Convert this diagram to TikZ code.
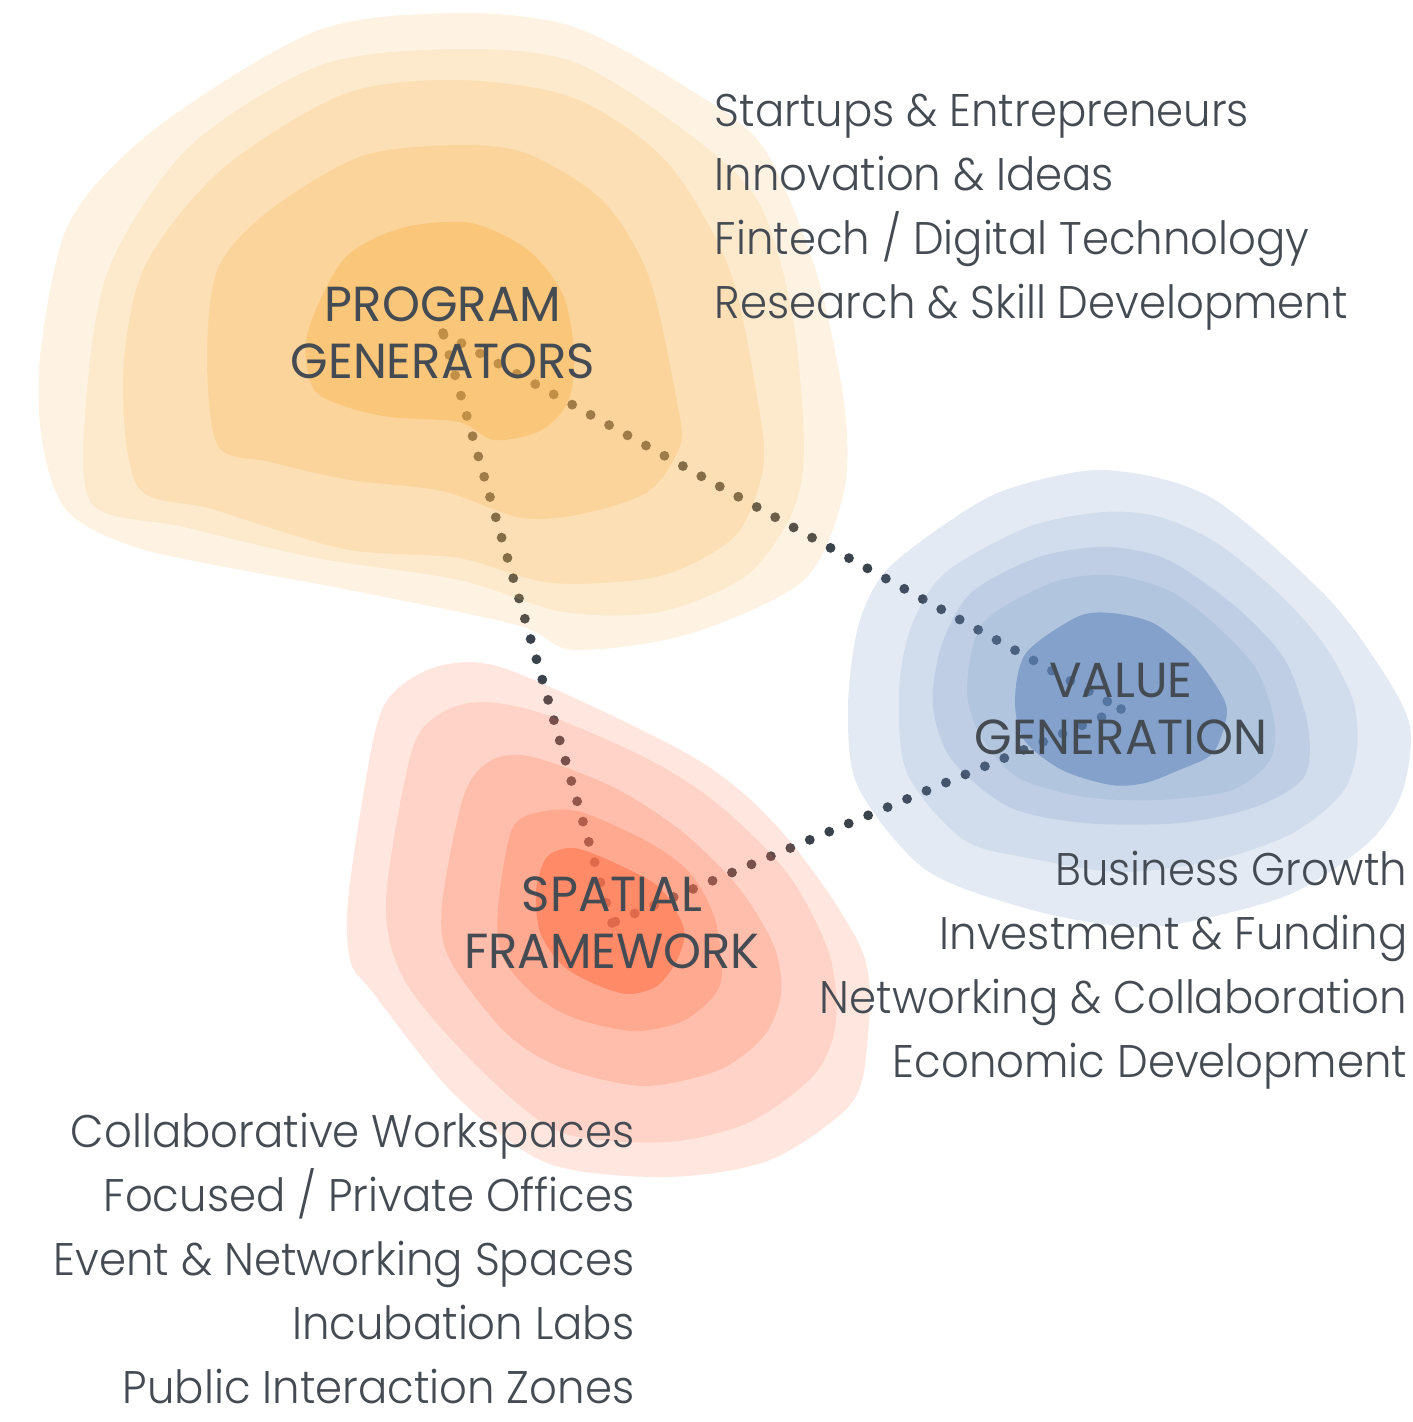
\documentclass[tikz,border=0pt]{standalone}
\usepackage{fontspec}
\setmainfont{Poppins}
\IfFontExistsTF{Poppins Light}
  {\newfontfamily\listfont{Poppins Light}[FakeStretch=0.95]}
  {\IfFontExistsTF{Lato Light}
    {\newfontfamily\listfont{Lato Light}}
    {\newfontfamily\listfont{Poppins}[FakeStretch=0.95]}}
\newfontfamily\headfont{Poppins}[FakeStretch=0.98]

\definecolor{inkgrey}{HTML}{454B53}
\definecolor{dotgrey}{HTML}{3A424B}
\definecolor{pgorange}{HTML}{F7B046}
\definecolor{vgblue}{HTML}{5F85BC}
\definecolor{sfred}{HTML}{FF734B}

\pgfdeclarelayer{dots}
\pgfdeclarelayer{blobs}
\pgfsetlayers{dots,blobs,main}

\begin{document}
\begin{tikzpicture}[x=0.01cm,y=-0.01cm,
  headtext/.style={inner sep=0pt,align=center,text=inkgrey,font=\headfont\fontsize{14}{16.2}\selectfont},
  listtext/.style={inner sep=0pt,text=inkgrey,font=\listfont\fontsize{13}{18.2}\selectfont},
  dotline/.style={draw=dotgrey,line width=2.8pt,line cap=round,dash pattern=on 0pt off 6pt}]
\useasboundingbox (0,0) rectangle (1413,1422);

% the three hubs
\node[headtext] (pg) at (443,333) {PROGRAM\\GENERATORS};
\node[headtext] (vg) at (1121,709) {VALUE\\GENERATION};
\node[headtext] (sf) at (612,923) {SPATIAL\\FRAMEWORK};

% lists
\node[listtext,align=left,anchor=north west] (pglist) at (714,93)
  {Startups \& Entrepreneurs\\Innovation \& Ideas\\Fintech / Digital Technology\\Research \& Skill Development};
\node[listtext,align=right,anchor=north east] (vglist) at (1408,850)
  {Business Growth\\Investment \& Funding\\Networking \& Collaboration\\Economic Development};
\node[listtext,align=right,anchor=north east] (sflist) at (635,1112)
  {Collaborative Workspaces\\Focused / Private Offices\\Event \& Networking Spaces\\Incubation Labs\\Public Interaction Zones};

% dotted links
\begin{pgfonlayer}{dots}
\draw[dotline] (pg.center) -- (vg.center);
\draw[dotline] (vg.center) -- (sf.center);
\draw[dotline] (sf.center) -- (pg.center);
\end{pgfonlayer}

\begin{pgfonlayer}{blobs}
% program generators
\fill[pgorange,fill opacity=0.15] plot[smooth cycle] coordinates {(316,31) (459,13) (574,27) (689,89) (763,147) (815,268) (844,402) (844,491) (804,580) (689,634) (574,650) (517,625) (344,589) (149,551) (69,513) (43,446) (40,357) (69,223) (155,129)};
\fill[pgorange,fill opacity=0.14] plot[smooth cycle] coordinates {(321,65) (459,49) (574,62) (689,134) (758,201) (792,312) (804,446) (792,513) (746,576) (660,612) (563,612) (459,580) (316,558) (184,527) (92,504) (86,402) (109,268) (189,147)};
\fill[pgorange,fill opacity=0.18] plot[smooth cycle] coordinates {(344,94) (459,80) (574,98) (666,161) (729,268) (758,402) (763,469) (735,536) (660,576) (551,583) (459,558) (344,549) (212,509) (138,487) (123,379) (144,268) (221,170)};
\fill[pgorange,fill opacity=0.23] plot[smooth cycle] coordinates {(362,156) (459,145) (528,154) (603,201) (649,277) (677,402) (680,446) (649,491) (586,513) (522,518) (442,491) (350,480) (270,462) (218,446) (207,357) (218,268) (270,210)};
\fill[pgorange,fill opacity=0.39] plot[smooth cycle] coordinates {(402,228) (471,223) (528,250) (563,295) (574,353) (568,402) (540,431) (494,440) (459,422) (390,417) (344,406) (313,388) (307,335) (344,259)};

% value generation
\fill[vgblue,fill opacity=0.17] plot[smooth cycle] coordinates {(1005,490) (1104,470) (1210,497) (1323,593) (1380,667) (1410,727) (1402,793) (1368,843) (1293,893) (1198,920) (1130,927) (1032,910) (926,870) (858,787) (848,707) (858,627) (884,573) (941,527)};
\fill[vgblue,fill opacity=0.145] plot[smooth cycle] coordinates {(1028,527) (1104,512) (1160,517) (1217,543) (1278,593) (1323,643) (1353,700) (1357,750) (1342,793) (1293,833) (1217,860) (1123,872) (1039,860) (964,840) (907,773) (899,693) (911,627) (945,573)};
\fill[vgblue,fill opacity=0.155] plot[smooth cycle] coordinates {(1039,557) (1107,547) (1168,560) (1236,607) (1285,660) (1308,727) (1304,777) (1255,807) (1179,823) (1085,823) (1009,807) (952,760) (933,707) (941,647) (971,593)};
\fill[vgblue,fill opacity=0.13] plot[smooth cycle] coordinates {(1051,583) (1111,575) (1168,590) (1210,620) (1255,667) (1274,720) (1270,760) (1232,790) (1160,800) (1085,797) (1017,777) (979,733) (967,687) (983,623)};
\fill[vgblue,fill opacity=0.56] plot[smooth cycle] coordinates {(1077,617) (1111,613) (1153,623) (1191,653) (1217,687) (1227,713) (1213,753) (1179,770) (1145,783) (1111,785) (1062,770) (1024,740) (1015,700) (1026,653)};

% spatial framework
\fill[sfred,fill opacity=0.18] plot[smooth cycle] coordinates {(443,665) (512,671) (698,760) (788,839) (863,953) (867,1046) (850,1105) (770,1160) (667,1177) (547,1163) (454,1094) (374,994) (350,960) (349,891) (374,736) (395,691)};
\fill[sfred,fill opacity=0.16] plot[smooth cycle] coordinates {(443,712) (485,702) (547,715) (650,760) (719,805) (788,874) (829,953) (836,1022) (815,1074) (750,1122) (667,1142) (560,1132) (478,1067) (405,981) (386,901) (412,750)};
\fill[sfred,fill opacity=0.22] plot[smooth cycle] coordinates {(492,760) (533,757) (615,788) (684,833) (739,888) (774,946) (781,994) (764,1036) (719,1070) (643,1086) (560,1067) (505,1032) (450,960) (442,905) (464,795)};
\fill[sfred,fill opacity=0.28] plot[smooth cycle] coordinates {(540,812) (581,812) (650,843) (691,874) (715,919) (722,974) (712,998) (681,1022) (633,1031) (574,1018) (533,994) (502,956) (498,908) (512,829)};
\fill[sfred,fill opacity=0.59] plot[smooth cycle] coordinates {(574,848) (615,863) (660,888) (684,929) (677,960) (657,986) (626,994) (588,981) (560,963) (540,932) (536,891) (547,857)};
\end{pgfonlayer}
\end{tikzpicture}
\end{document}
